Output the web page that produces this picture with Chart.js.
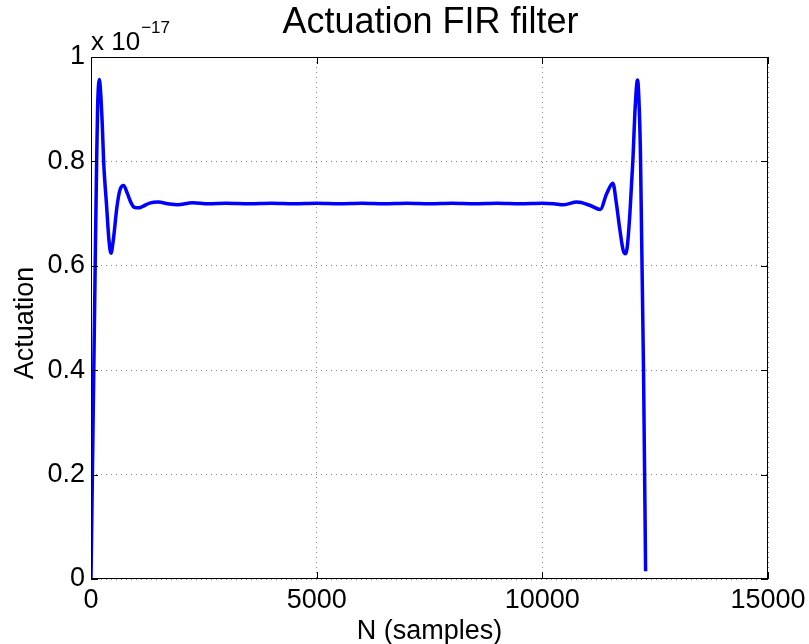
<!DOCTYPE html>
<html>
<head>
<meta charset="utf-8">
<script src="https://cdn.jsdelivr.net/npm/chart.js@4"></script>
<style>
html,body{margin:0;padding:0;background:#fff;}
#wrap{width:809px;height:644px;}
</style>
</head>
<body>
<div id="wrap"><canvas id="c" width="809" height="644"></canvas></div>
<script>
// Sample index (N) and actuation values (x 1e-17)
const samples = [0, 88, 125, 147, 184, 215, 250, 280, 347, 398, 442, 494, 575, 640, 723, 800, 880, 960, 1047, 1150, 1300, 1490, 1700, 1917, 2250, 2600, 3000, 3500, 4000, 4500, 5000, 5500, 6000, 6500, 7000, 7500, 8000, 8500, 9000, 9500, 10000, 10250, 10472, 10767, 11050, 11283, 11425, 11563, 11640, 11710, 11790, 11844, 11880, 11940, 12005, 12058, 12109, 12146, 12175, 12242, 12288];
const actuation = [0.0, 0.57, 0.80, 0.905, 0.957, 0.93, 0.87, 0.80, 0.713, 0.649, 0.624, 0.649, 0.713, 0.745, 0.754, 0.740, 0.722, 0.712, 0.711, 0.714, 0.720, 0.722, 0.719, 0.717, 0.721, 0.719, 0.720, 0.719, 0.720, 0.719, 0.720, 0.719, 0.720, 0.719, 0.720, 0.719, 0.720, 0.719, 0.720, 0.719, 0.720, 0.719, 0.717, 0.722, 0.716, 0.708, 0.738, 0.758, 0.72, 0.674, 0.63, 0.623, 0.635, 0.70, 0.80, 0.905, 0.956, 0.905, 0.81, 0.40, 0.015];
const xTicks = [0, 5000, 10000, 15000];
const yTicks = [0, 0.2, 0.4, 0.6, 0.8, 1];
const titleText = 'Actuation FIR filter';
const xLabel = 'N (samples)';
const yLabel = 'Actuation';

const FONT = '"Liberation Sans", Arial, Helvetica, sans-serif';
const points = samples.map((s, i) => ({x: s, y: actuation[i]}));

const decor = {
  id: 'decor',
  afterDraw(chart) {
    const ctx = chart.ctx;
    const a = chart.chartArea;
    const xs = chart.scales.x, ys = chart.scales.y;
    ctx.save();
    // box
    ctx.strokeStyle = '#000';
    ctx.lineWidth = 1;
    ctx.strokeRect(a.left + 0.5, a.top + 0.5, a.right - a.left - 1, a.bottom - a.top - 1);
    // inward ticks
    ctx.beginPath();
    const tl = 7;
    xTicks.forEach(v => {
      const px = Math.round(xs.getPixelForValue(v)) + 0.5;
      ctx.moveTo(px, a.bottom); ctx.lineTo(px, a.bottom - tl);
      ctx.moveTo(px, a.top); ctx.lineTo(px, a.top + tl);
    });
    yTicks.forEach(v => {
      const py = Math.round(ys.getPixelForValue(v)) + 0.5;
      ctx.moveTo(a.left, py); ctx.lineTo(a.left + tl, py);
      ctx.moveTo(a.right, py); ctx.lineTo(a.right - tl, py);
    });
    ctx.stroke();
    // texts
    ctx.fillStyle = '#000';
    ctx.textAlign = 'center';
    ctx.textBaseline = 'alphabetic';
    ctx.font = '36px ' + FONT;
    ctx.fillText(titleText, (a.left + a.right) / 2 + 1, 33);
    ctx.font = '27px ' + FONT;
    ctx.fillText(xLabel, (a.left + a.right) / 2, 639);
    ctx.save();
    ctx.translate(33, 323);
    ctx.rotate(-Math.PI / 2);
    ctx.fillText(yLabel, 0, 0);
    ctx.restore();
    // exponent
    ctx.textAlign = 'left';
    ctx.font = '26px ' + FONT;
    ctx.fillText('x 10', 91, 50);
    const w = ctx.measureText('x 10').width;
    ctx.font = '17px ' + FONT;
    ctx.fillText('\u221217', 91 + w + 1, 33);
    ctx.restore();
  }
};

new Chart(document.getElementById('c'), {
  type: 'line',
  data: {
    datasets: [{
      data: points,
      borderColor: '#0000ff',
      borderWidth: 3.5,
      pointRadius: 0,
      fill: false,
      cubicInterpolationMode: 'monotone'
    }]
  },
  options: {
    responsive: false,
    animation: false,
    devicePixelRatio: 1,
    layout: {padding: {left: 0, right: 41, top: 57, bottom: 0}},
    plugins: {legend: {display: false}, tooltip: {enabled: false}, title: {display: false}},
    scales: {
      x: {
        type: 'linear', min: 0, max: 15000,
        afterBuildTicks(s) { s.ticks = xTicks.map(v => ({value: v})); },
        afterFit(s) { s.height = 65; s.paddingLeft = 0; s.paddingRight = 0; },
        grid: {color: '#888', lineWidth: 1, drawTicks: false},
        border: {display: false, dash: [1, 4]},
        ticks: {color: '#000', font: {family: FONT, size: 27}, padding: 5, maxRotation: 0,
          callback: v => String(v)}
      },
      y: {
        type: 'linear', min: 0, max: 1,
        afterBuildTicks(s) { s.ticks = yTicks.map(v => ({value: v})); },
        afterFit(s) { s.width = 91; s.paddingTop = 0; s.paddingBottom = 0; },
        grid: {color: '#888', lineWidth: 1, drawTicks: false},
        border: {display: false, dash: [1, 4]},
        ticks: {color: '#000', font: {family: FONT, size: 27}, padding: 6,
          callback: v => (Math.round(v * 10) / 10).toString()}
      }
    }
  },
  plugins: [decor]
});
</script>
</body>
</html>
